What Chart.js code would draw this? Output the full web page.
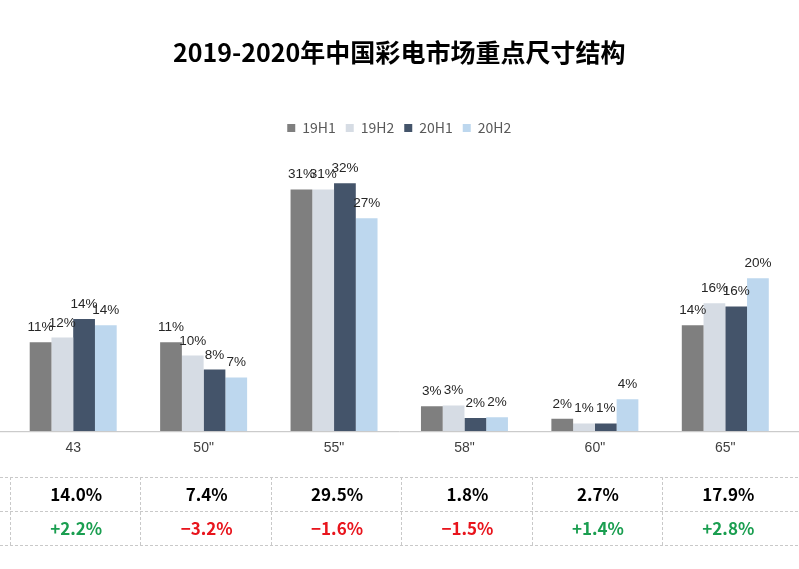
<!DOCTYPE html>
<html>
<head>
<meta charset="utf-8">
<script src="https://cdn.jsdelivr.net/npm/chart.js@4"></script>
<style>
  html, body { margin: 0; padding: 0; background: #fff; }
  #wrap { position: relative; width: 799px; height: 569px; }
</style>
</head>
<body>
<div id="wrap"><canvas id="sizeChart" width="799" height="569"></canvas></div>
<script>
// chart data
const categories = ['43', '50"', '55"', '58"', '60"', '65"'];
const h19H1 = [11.4, 11.4, 31.0, 3.2, 1.6, 13.6];
const h19H2 = [12.0, 9.7, 31.0, 3.3, 1.0, 16.4];
const h20H1 = [14.4, 7.9, 31.8, 1.7, 1.0, 16.0];
const h20H2 = [13.6, 6.9, 27.3, 1.8, 4.1, 19.6];
// table under the chart
const share2020 = [14.0, 7.4, 29.5, 1.8, 2.7, 17.9];
const shareChange = [2.2, -3.2, -1.6, -1.5, 1.4, 2.8];

const cjk = '"Noto Sans CJK SC", "Noto Sans", sans-serif';
const latin = '"Liberation Sans", Arial, sans-serif';

// value labels above bars
const barLabels = {
  id: 'barLabels',
  afterDatasetsDraw(chart) {
    const ctx = chart.ctx;
    ctx.save();
    ctx.font = '13.5px ' + latin;
    ctx.fillStyle = '#262626';
    ctx.textAlign = 'center';
    ctx.textBaseline = 'alphabetic';
    chart.data.datasets.forEach((ds, i) => {
      chart.getDatasetMeta(i).data.forEach((bar, j) => {
        ctx.fillText(Math.round(ds.data[j]) + '%', bar.x, bar.y - 11);
      });
    });
    ctx.restore();
  }
};

// full width axis line + table of 2020 shares
const axisAndTable = {
  id: 'axisAndTable',
  afterDraw(chart) {
    const ctx = chart.ctx;
    const x = chart.scales.x;
    const w = chart.width;
    const bottom = chart.chartArea.bottom;
    ctx.save();
    ctx.strokeStyle = '#bfbfbf';
    ctx.lineWidth = 1;
    ctx.beginPath();
    ctx.moveTo(0, bottom + 0.5);
    ctx.lineTo(w, bottom + 0.5);
    ctx.stroke();

    const step = (x.right - x.left) / categories.length;
    const rows = [477, 511, 545];
    ctx.strokeStyle = '#c9c9c9';
    ctx.setLineDash([3, 2]);
    rows.forEach(y => {
      ctx.beginPath();
      ctx.moveTo(0, y + 0.5);
      ctx.lineTo(w, y + 0.5);
      ctx.stroke();
    });
    categories.forEach((c, i) => {
      const lx = Math.round(x.getPixelForValue(i) - step / 2) + 2.5;
      ctx.beginPath();
      ctx.moveTo(lx, rows[0]);
      ctx.lineTo(lx, rows[2]);
      ctx.stroke();
    });
    ctx.setLineDash([]);

    ctx.textAlign = 'center';
    ctx.textBaseline = 'middle';
    ctx.font = 'bold 17px ' + cjk;
    categories.forEach((c, i) => {
      const cx = x.getPixelForValue(i) + 3;
      ctx.fillStyle = '#000';
      ctx.fillText(share2020[i].toFixed(1) + '%', cx, 495);
      const d = shareChange[i];
      ctx.fillStyle = d >= 0 ? '#1a9e50' : '#e8141c';
      ctx.fillText((d >= 0 ? '+' : '\u2212') + Math.abs(d).toFixed(1) + '%', cx, 529);
    });
    ctx.restore();
  }
};

new Chart(document.getElementById('sizeChart').getContext('2d'), {
  type: 'bar',
  data: {
    labels: categories,
    datasets: [
      { label: '19H1', data: h19H1, backgroundColor: '#7f7f7f' },
      { label: '19H2', data: h19H2, backgroundColor: '#d6dce4' },
      { label: '20H1', data: h20H1, backgroundColor: '#44546a' },
      { label: '20H2', data: h20H2, backgroundColor: '#bdd7ee' }
    ]
  },
  options: {
    responsive: false,
    animation: false,
    datasets: {
      bar: { barPercentage: 1, categoryPercentage: 0.667, borderWidth: 0 }
    },
    layout: { padding: { top: 0, left: 8, right: 8.5, bottom: 103 } },
    plugins: {
      title: {
        display: true,
        text: '2019-2020年中国彩电市场重点尺寸结构',
        color: '#000',
        font: { family: cjk, size: 25, weight: 'bold' },
        padding: { top: 37, bottom: 44 }
      },
      legend: {
        position: 'top',
        labels: {
          boxWidth: 8,
          boxHeight: 8,
          padding: 10,
          color: '#595959',
          font: { family: cjk, size: 14 }
        }
      },
      tooltip: { enabled: false }
    },
    scales: {
      x: {
        grid: { display: false, drawTicks: false },
        border: { display: false },
        ticks: { color: '#404040', padding: 9, font: { family: latin, size: 14 } }
      },
      y: {
        display: false,
        min: 0,
        max: 36.7
      }
    }
  },
  plugins: [barLabels, axisAndTable]
});
</script>
</body>
</html>
